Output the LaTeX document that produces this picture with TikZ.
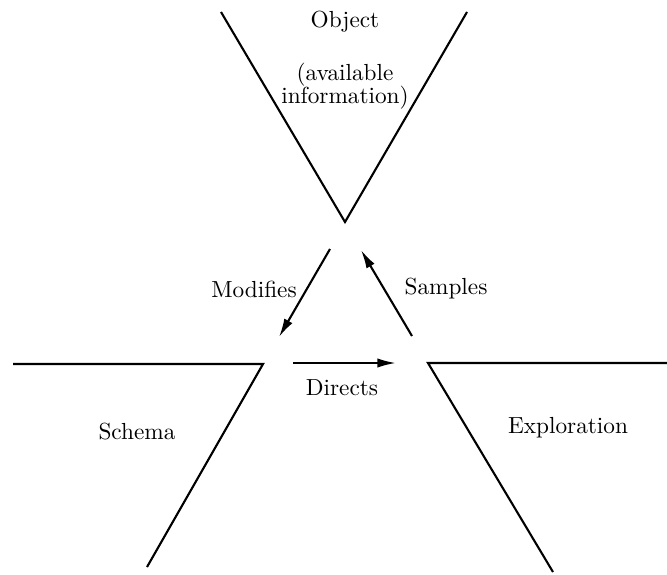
\documentclass[tikz,border=0pt]{standalone}
\usepackage{tikz}
\usetikzlibrary{arrows.meta}

\begin{document}
\begin{tikzpicture}[x=0.0151cm,y=-0.0151cm,line width=0.9pt,
    flow/.style={-{Latex[length=8pt,width=4pt]}},
    lbl/.style={font=\normalsize}]
\useasboundingbox (0,0) rectangle (667,574);
% the three wedges
\coordinate (objL) at (221,12);
\coordinate (objR) at (467,12);
\coordinate (objV) at (345,222);
\coordinate (schL) at (13,364);
\coordinate (schC) at (263,364);
\coordinate (schB) at (147,567);
\coordinate (expR) at (667,363);
\coordinate (expC) at (428,363);
\coordinate (expB) at (553,572);
\draw (objL) -- (objV) -- (objR);
\draw (schL) -- (schC) -- (schB);
\draw (expR) -- (expC) -- (expB);
% labels
\node[lbl] (obj) at (345,22) {Object};
\node[lbl,align=center] (info) at (345,86) {(available\\[-2pt]information)};
\node[lbl] (sch) at (137,432) {Schema};
\node[lbl] (exp) at (568,428) {Exploration};
% the cycle
\coordinate (modA) at (330,249);
\coordinate (modB) at (279,337);
\coordinate (samA) at (412,336);
\coordinate (samB) at (361,250);
\coordinate (dirA) at (293,363);
\coordinate (dirB) at (396,363);
\draw[flow] (modA) -- (modB);
\draw[flow] (samA) -- (samB);
\draw[flow] (dirA) -- (dirB);
\node[lbl] (mod) at (254,289) {Modifies};
\node[lbl] (sam) at (446,289) {Samples};
\node[lbl] (dir) at (342,388) {Directs};
\end{tikzpicture}
\end{document}
